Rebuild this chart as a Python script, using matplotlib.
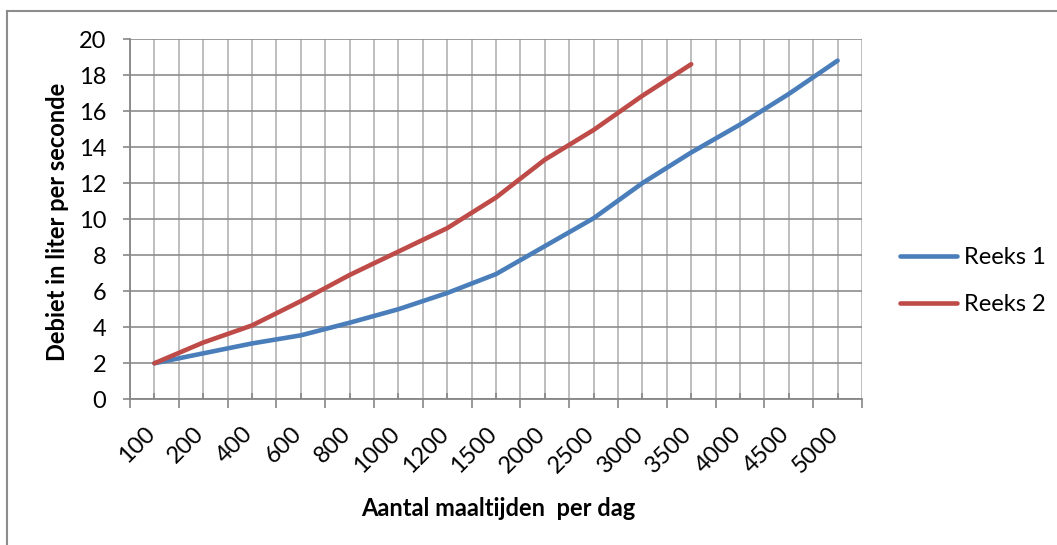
import matplotlib
matplotlib.use("Agg")
import matplotlib.pyplot as plt
from matplotlib.lines import Line2D
from matplotlib.transforms import ScaledTranslation
import numpy as np

categories = ['100', '200', '400', '600', '800', '1000', '1200', '1500',
              '2000', '2500', '3000', '3500', '4000', '4500', '5000']
reeks1 = [2.0, 2.55, 3.1, 3.55, 4.25, 5.0, 5.9, 6.95, 8.5, 10.05, 12.0, 13.7, 15.25, 16.95, 18.8]
reeks2 = [2.0, 3.15, 4.1, 5.45, 6.9, 8.2, 9.5, 11.2, 13.3, 14.95, 16.85, 18.6]
y_ticks = [0, 2, 4, 6, 8, 10, 12, 14, 16, 18, 20]

plt.rcParams['font.family'] = ['Lato', 'DejaVu Sans']

W, H = 1057, 545
fig = plt.figure(figsize=(W / 100, H / 100), dpi=100)
fig.patch.set_facecolor('white')

L, R, T, B = 130, 862, 39, 399.3
ax = fig.add_axes([L / W, 1 - B / H, (R - L) / W, (B - T) / H])

x1 = np.arange(len(reeks1))
x2 = np.arange(len(reeks2))
ax.plot(x1, reeks1, color='#4A7EBB', lw=3.3, solid_capstyle='round', solid_joinstyle='round', label='Reeks 1', zorder=3)
ax.plot(x2, reeks2, color='#BE4B48', lw=3.3, solid_capstyle='round', solid_joinstyle='round', label='Reeks 2', zorder=3)

n = len(categories)
ax.set_xlim(-0.5, n - 0.5)
ax.set_ylim(0, 20)

FS = 17

# category centers (labels) as major ticks, boundaries as minor ticks
ax.set_xticks(np.arange(n))
ax.set_xticklabels(categories, rotation=45, ha='right', va='top', fontsize=FS, color='#000000')
ax.set_xticks(np.arange(-0.5, n, 1.0), minor=True)
ax.set_yticks(y_ticks)
ax.set_yticklabels([str(v) for v in y_ticks], fontsize=FS)

ax.tick_params(axis='x', which='major', direction='in', length=4.5, width=1.2, color='#868686', pad=17)
ax.tick_params(axis='x', which='minor', direction='out', length=6.5, width=1.2, color='#868686')
ax.tick_params(axis='y', which='major', direction='out', length=5, width=1.2, color='#868686', pad=12)

off = ScaledTranslation(5 / 100, 0, fig.dpi_scale_trans)
for lab in ax.get_xticklabels():
    lab.set_transform(lab.get_transform() + off)

ax.grid(True, which='major', axis='y', color='#8C8C8C', lw=1.2)
ax.grid(True, which='both', axis='x', color='#B3B3B3', lw=1.2)
ax.set_axisbelow(True)

for s in ['top', 'right']:
    ax.spines[s].set_visible(False)
for s in ['left', 'bottom']:
    ax.spines[s].set_color('#868686')
    ax.spines[s].set_linewidth(1.3)

ax.set_xlabel('Aantal maaltijden  per dag', fontsize=FS, fontweight='bold')
ax.xaxis.set_label_coords(498 / W, 1 - 508 / H, transform=fig.transFigure)
ax.xaxis.label.set_va('center')
ax.set_ylabel('Debiet in liter per seconde', fontsize=FS, fontweight='bold')
ax.yaxis.set_label_coords(58 / W, 1 - 222 / H, transform=fig.transFigure)
ax.yaxis.label.set_va('center')

leg = ax.legend(loc='center left', bbox_to_anchor=(900 / W, 1 - 281 / H),
                bbox_transform=fig.transFigure, frameon=False, fontsize=FS,
                handlelength=2.4, handletextpad=0.3, labelspacing=1.1,
                borderpad=0, borderaxespad=0)

# outer chart border
fig.add_artist(Line2D([6.5 / W, 6.5 / W], [0, 1 - 11 / H], transform=fig.transFigure, color='#8C8C8C', lw=1.5))
fig.add_artist(Line2D([6.5 / W, 1], [1 - 11 / H, 1 - 11 / H], transform=fig.transFigure, color='#8C8C8C', lw=1.5))

fig.savefig('out.png', dpi=100)
